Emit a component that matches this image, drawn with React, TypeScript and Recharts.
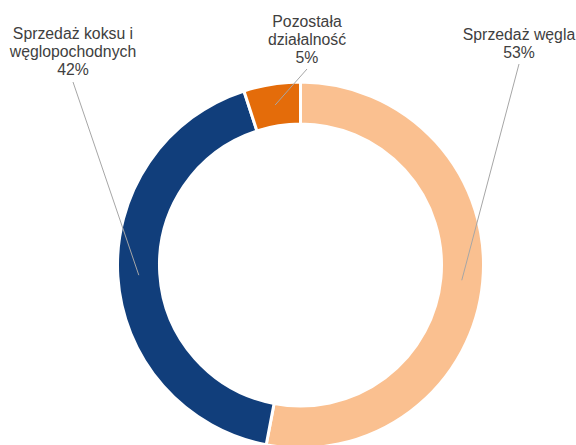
import React from 'react';
import { PieChart, Pie, Cell } from 'recharts';

const categories = ['Sprzedaż węgla', 'Sprzedaż koksu i węglopochodnych', 'Pozostała działalność'];
const shares = [53, 42, 5];
const labelLines = [
  ['Sprzedaż węgla', '53%'],
  ['Sprzedaż koksu i', 'węglopochodnych', '42%'],
  ['Pozostała', 'działalność', '5%'],
];
const colors = ['#FAC090', '#113E7B', '#E46C0A'];

// where each label block sits (text centre x, first baseline y, leader end y)
const labelSpots = [
  { x: 519, y: 40, lineEnd: 64 },
  { x: 73, y: 39, lineEnd: 82 },
  { x: 307, y: 27, lineEnd: 69 },
];

const data = categories.map((name, i) => ({ name, value: shares[i] }));

const RADIAN = Math.PI / 180;

const renderLabel = (props: any) => {
  const { cx, cy, midAngle, innerRadius, outerRadius, index } = props;
  const r = (innerRadius + outerRadius) / 2;
  const sx = cx + r * Math.cos(-midAngle * RADIAN);
  const sy = cy + r * Math.sin(-midAngle * RADIAN);
  const spot = labelSpots[index];
  return (
    <g key={`lbl-${index}`}>
      <line x1={sx} y1={sy} x2={spot.x} y2={spot.lineEnd} stroke="#A6A6A6" strokeWidth={1} />
      <text
        x={spot.x}
        y={spot.y}
        textAnchor="middle"
        fill="#404040"
        fontSize={15.8}
        fontFamily="'Liberation Sans', Arial, sans-serif"
      >
        {labelLines[index].map((t, j) => (
          <tspan key={j} x={spot.x} dy={j === 0 ? 0 : 18}>
            {t}
          </tspan>
        ))}
      </text>
    </g>
  );
};

const App: React.FC = () => {
  return (
    <div style={{ position: 'absolute', left: 0, top: 0, width: 576, height: 445, background: '#fff' }}>
      <PieChart width={576} height={445} margin={{ top: 0, right: 0, bottom: 0, left: 0 }}>
        <Pie
          data={data}
          dataKey="value"
          nameKey="name"
          cx={300.5}
          cy={265}
          innerRadius={141}
          outerRadius={183}
          startAngle={90}
          endAngle={-270}
          stroke="#FFFFFF"
          strokeWidth={3}
          label={renderLabel}
          labelLine={false}
          isAnimationActive={false}
        >
          {data.map((d, i) => (
            <Cell key={d.name} fill={colors[i]} />
          ))}
        </Pie>
      </PieChart>
    </div>
  );
};

export default App;
